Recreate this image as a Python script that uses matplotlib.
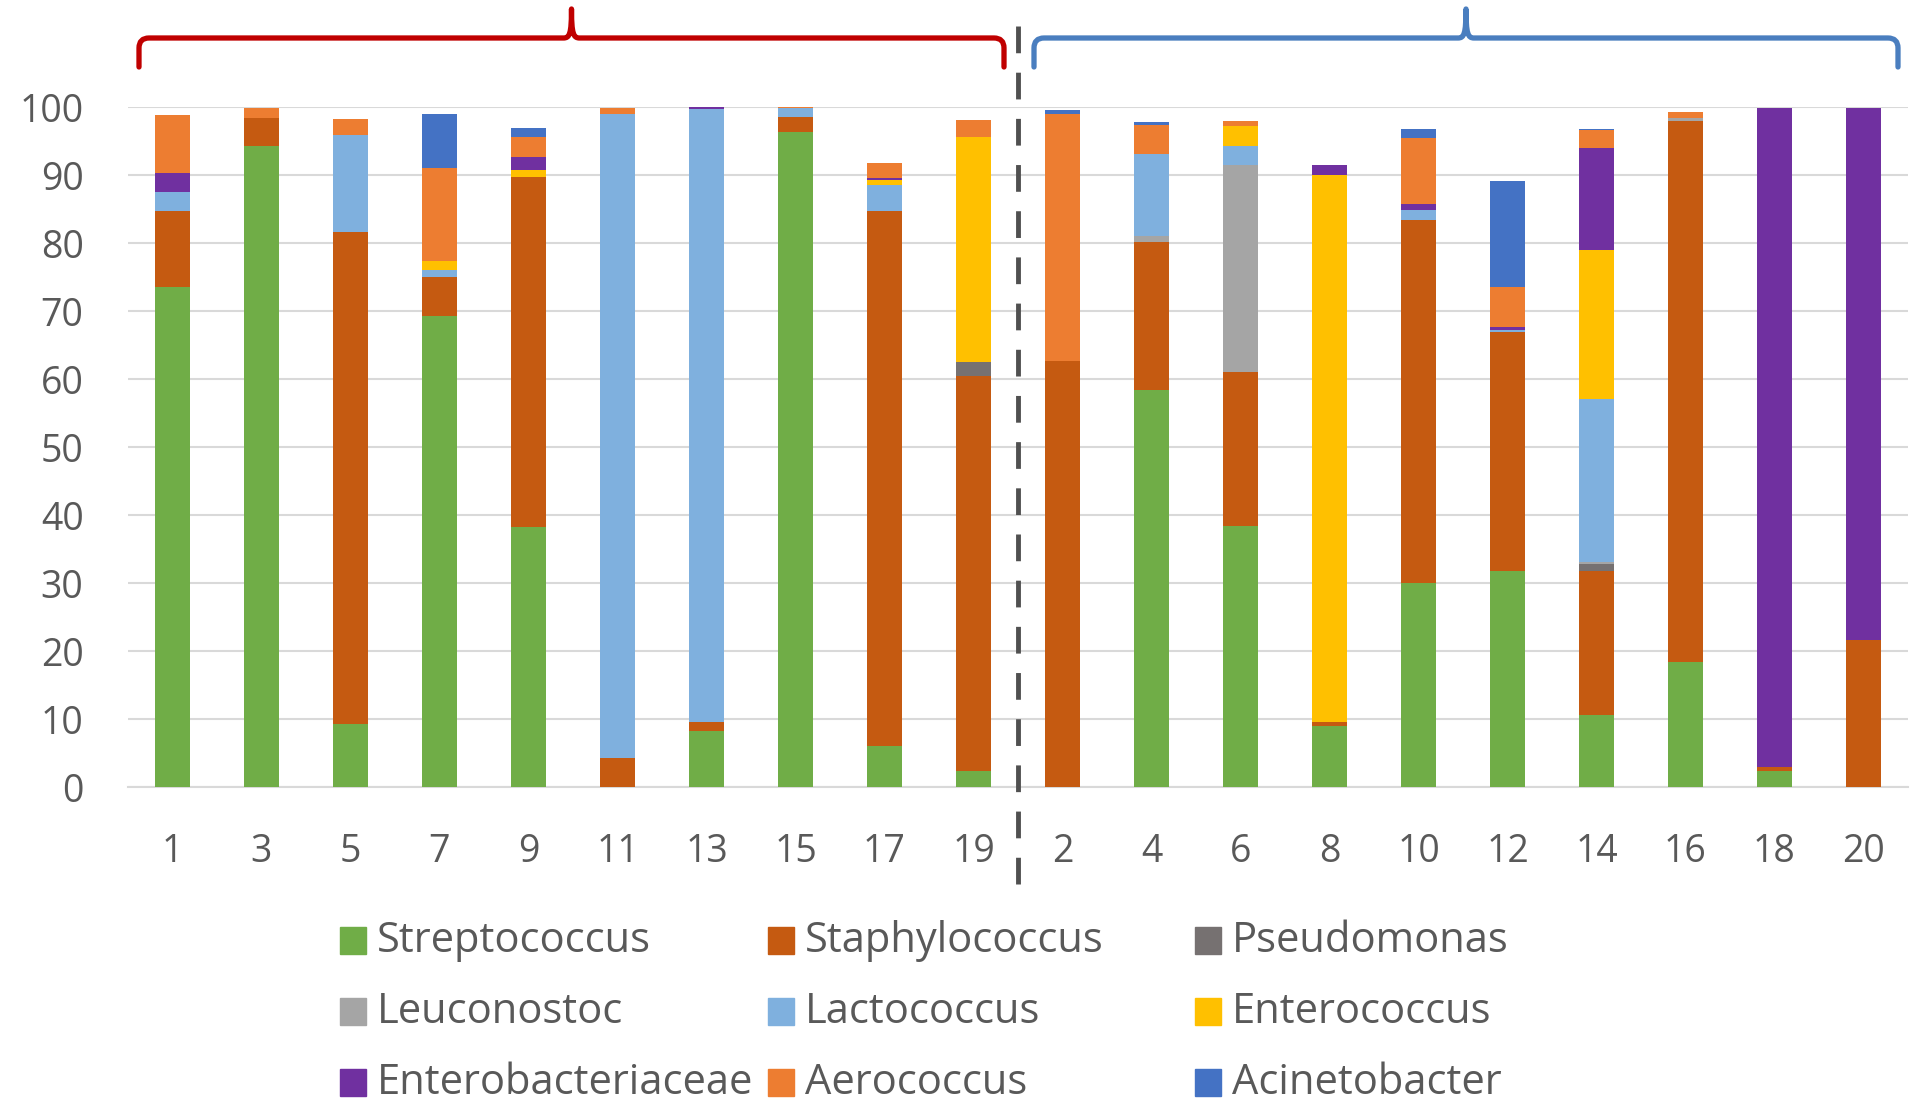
import matplotlib
matplotlib.use("Agg")
import matplotlib.pyplot as plt
import numpy as np
from matplotlib.path import Path
from matplotlib.patches import PathPatch, Rectangle

plt.rcParams['font.family'] = ['Open Sans', 'DejaVu Sans']

samples = ['1', '3', '5', '7', '9', '11', '13', '15', '17', '19',
           '2', '4', '6', '8', '10', '12', '14', '16', '18', '20']

taxa = ['Streptococcus', 'Staphylococcus', 'Pseudomonas',
        'Leuconostoc', 'Lactococcus', 'Enterococcus',
        'Enterobacteriaceae', 'Aerococcus', 'Acinetobacter']
colors = ['#70AD47', '#C55A11', '#767171', '#A5A5A5', '#7FB0DE',
          '#FFC000', '#7030A0', '#ED7D31', '#4472C4']

# relative abundance (%) per sample, same order as samples
streptococcus = [73.5, 94.2, 9.3, 69.2, 38.2, 0, 8.2, 96.3, 6.1, 2.4,
                 0, 58.4, 38.4, 9.0, 30.0, 31.8, 10.6, 18.4, 2.4, 0]
staphylococcus = [11.2, 4.2, 72.3, 5.8, 51.5, 4.2, 1.3, 2.3, 78.6, 58.1,
                  62.6, 21.8, 22.7, 0.6, 53.4, 35.1, 21.2, 79.6, 0.5, 21.6]
pseudomonas = [0, 0, 0, 0, 0, 0, 0, 0, 0, 2.0,
               0, 0, 0, 0, 0, 0, 1.0, 0, 0, 0]
leuconostoc = [0, 0, 0, 0, 0, 0, 0, 0, 0, 0,
               0, 0.9, 30.3, 0, 0, 0, 0.3, 0.4, 0, 0]
lactococcus = [2.8, 0, 14.3, 1.1, 0, 94.7, 90.2, 1.3, 3.9, 0,
               0, 12.0, 2.9, 0, 1.5, 0.3, 24.0, 0, 0, 0]
enterococcus = [0, 0, 0, 1.3, 1.0, 0, 0, 0, 0.6, 33.1,
                0, 0, 2.9, 80.4, 0, 0, 21.8, 0, 0, 0]
enterobacteriaceae = [2.8, 0, 0, 0, 1.9, 0, 0.3, 0, 0.3, 0,
                      0, 0, 0, 1.5, 0.8, 0.4, 15.0, 0, 97.0, 78.3]
aerococcus = [8.5, 1.5, 2.4, 13.6, 3.0, 1.0, 0, 0.1, 2.2, 2.5,
              36.3, 4.3, 0.8, 0, 9.8, 6.0, 2.7, 0.8, 0, 0]
acinetobacter = [0, 0, 0, 8.0, 1.3, 0, 0, 0, 0, 0,
                 0.7, 0.4, 0, 0, 1.3, 15.5, 0.2, 0, 0, 0]

series = [streptococcus, staphylococcus, pseudomonas, leuconostoc,
          lactococcus, enterococcus, enterobacteriaceae, aerococcus,
          acinetobacter]

W, H = 1912, 1112
fig = plt.figure(figsize=(W / 100, H / 100), dpi=100)
ax = fig.add_axes([128 / W, 1 - 787 / H, (1908 - 128) / W, (787 - 107) / H])

x = np.arange(len(samples))
bottom = np.zeros(len(samples))
for name, vals, c in zip(taxa, series, colors):
    vals = np.array(vals, dtype=float)
    ax.bar(x, vals, 0.4, bottom=bottom, color=c, label=name, zorder=3)
    bottom += vals

ax.set_xlim(-0.5, len(samples) - 0.5)
ax.set_ylim(0, 100)
ax.set_yticks(np.arange(0, 101, 10))
ax.set_xticks(x)
ax.set_xticklabels(samples)
ax.grid(axis='y', color='#D9D9D9', linewidth=1.5, zorder=0)
ax.set_axisbelow(True)
for s in ['top', 'right', 'left']:
    ax.spines[s].set_visible(False)
ax.spines['bottom'].set_color('#D9D9D9')
ax.spines['bottom'].set_linewidth(1.5)
ax.tick_params(axis='both', length=0, labelsize=27, labelcolor='#595959')
ax.tick_params(axis='y', pad=32)
ax.tick_params(axis='x', pad=33)

# dashed separator between the two groups
ax.plot([9.5, 9.5], [-14.3, 114.3], color='#505050', lw=3.5,
        linestyle=(0, (5.5, 4)), clip_on=False, zorder=5)


def fpt(px, py):
    return (px / W, 1 - py / H)


def brace(x0, x1, color):
    xm = (x0 + x1) / 2
    yb, yh, yt = 67, 38, 9
    r = 10
    verts = [(x0, yb), (x0, yh + r), (x0, yh), (x0 + r, yh),
             (xm - 8, yh),
             (xm - 2, yh), (xm, yh - 4), (xm, yt),
             (xm, yh - 4), (xm + 2, yh), (xm + 8, yh),
             (x1 - r, yh),
             (x1, yh), (x1, yh + r), (x1, yb)]
    codes = [Path.MOVETO, Path.LINETO, Path.CURVE3, Path.CURVE3,
             Path.LINETO,
             Path.CURVE4, Path.CURVE4, Path.CURVE4,
             Path.CURVE4, Path.CURVE4, Path.CURVE4,
             Path.LINETO,
             Path.CURVE3, Path.CURVE3, Path.LINETO]
    verts = [fpt(a, b) for a, b in verts]
    fig.patches.append(PathPatch(Path(verts, codes), fill=False, edgecolor=color,
                                 lw=3.8, capstyle='round', joinstyle='round',
                                 transform=fig.transFigure))


brace(139, 1004, '#C00000')
brace(1034, 1898, '#4A7EBF')

# legend laid out in rows like the original
col_x = [340, 768, 1195]
row_y = [941, 1012, 1083]
for i, (name, c) in enumerate(zip(taxa, colors)):
    cx = col_x[i % 3]
    cy = row_y[i // 3]
    lx, ly = fpt(cx, cy + 13)
    fig.patches.append(Rectangle((lx, ly), 26 / W, 27 / H, color=c,
                                 transform=fig.transFigure))
    tx, ty = fpt(cx + 37, cy)
    fig.text(tx, ty, name, fontsize=30, color='#595959', va='center', ha='left')

fig.savefig('out.png', dpi=100)
